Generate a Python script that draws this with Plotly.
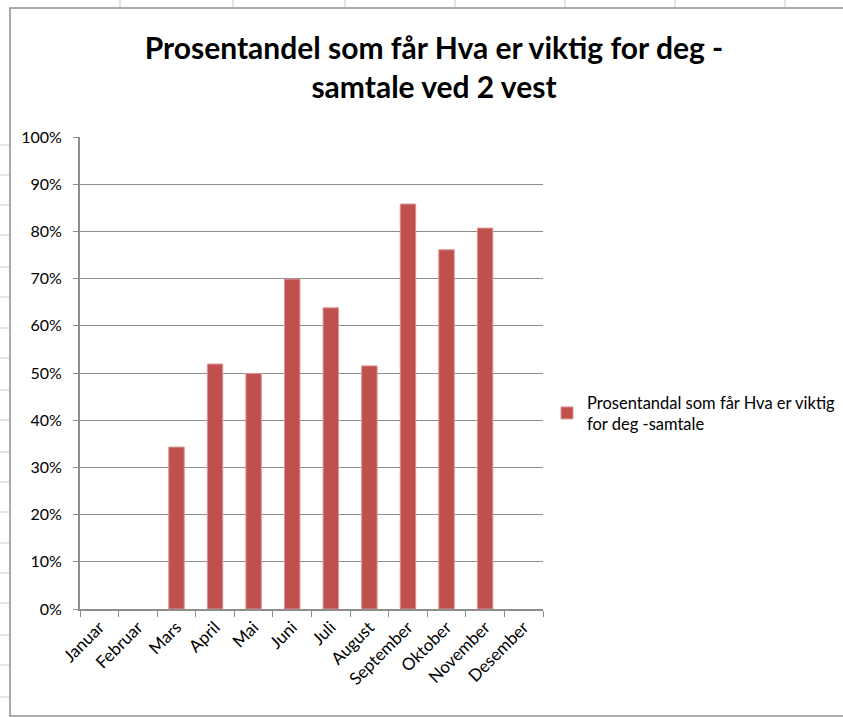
import plotly.graph_objects as go

months = ["Januar", "Februar", "Mars", "April", "Mai", "Juni", "Juli",
          "August", "September", "Oktober", "November", "Desember"]
values = [None, None, 0.343, 0.519, 0.499, 0.699, 0.638, 0.515, 0.858, 0.761, 0.807, None]
series_name = "Prosentandal som får Hva er viktig<br>for deg -samtale"
title_text = "Prosentandel som får Hva er viktig for deg -<br>samtale ved 2 vest"

W, H = 843, 717
L, R, T, B = 80, 543, 137, 609

def px(x):
    return (x - L) / (R - L)

def py(y):
    return (B - y) / (B - T)

fig = go.Figure()
fig.add_trace(go.Bar(
    x=months, y=values, name=series_name,
    marker=dict(color="#C0504D", line=dict(color="#D99694", width=1)),
    showlegend=True,
))

shapes = []
# chart border
shapes.append(dict(type="rect", xref="paper", yref="paper",
                   x0=px(10), x1=px(860), y0=py(716), y1=py(8),
                   line=dict(color="#8E8E8E", width=1.5), layer="below"))
# spreadsheet grid above / left of chart
for gx in [120, 233, 345, 455, 565, 675, 785]:
    shapes.append(dict(type="line", xref="paper", yref="paper",
                       x0=px(gx), x1=px(gx), y0=py(0), y1=py(7),
                       line=dict(color="#C8C8C8", width=1)))
for gy in [145, 175, 205, 235, 267, 297, 328, 358, 390, 420, 452, 482, 512, 543, 573, 603, 635, 665, 697]:
    shapes.append(dict(type="line", xref="paper", yref="paper",
                       x0=px(0), x1=px(9), y0=py(gy), y1=py(gy),
                       line=dict(color="#C8C8C8", width=1)))

fig.update_layout(
    width=W, height=H,
    margin=dict(l=L, r=W - R, t=T, b=H - B, pad=0, autoexpand=False),
    paper_bgcolor="white", plot_bgcolor="white",
    font=dict(family="Lato, sans-serif", color="#000000", size=16),
    title=dict(text=title_text, xref="container", x=434 / W, xanchor="center",
               yref="container", y=1 - 59 / H, yanchor="middle",
               font=dict(family="Lato, sans-serif", size=30, color="#000000", weight="bold")),
    bargap=0.6,
    xaxis=dict(type="category", tickangle=-45, showgrid=False,
               showline=True, linecolor="#8E8E8E", linewidth=1.5,
               ticks="outside", tickson="boundaries", ticklen=6, tickcolor="#8E8E8E",
               tickfont=dict(size=17), range=[-0.5, 11.5], automargin=False),
    yaxis=dict(range=[0, 1], tickformat=".0%", dtick=0.1,
               ticksuffix="\u00a0\u00a0",
               showgrid=True, gridcolor="#8E8E8E", gridwidth=1.2,
               showline=True, linecolor="#8E8E8E", linewidth=1.5,
               ticks="outside", ticklen=5, tickcolor="#8E8E8E",
               tickfont=dict(size=16), zeroline=False, automargin=False),
    legend=dict(x=px(547), y=py(385), xanchor="left", yanchor="top",
                font=dict(size=16.5), bgcolor="rgba(0,0,0,0)",
                itemwidth=30, tracegroupgap=0),
    shapes=shapes,
)

fig.write_html("out.html")
